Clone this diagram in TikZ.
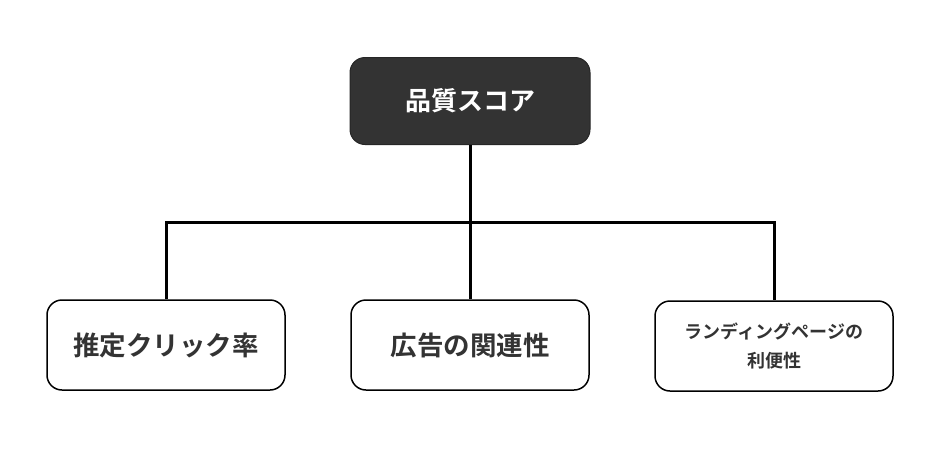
\documentclass[tikz,border=0pt]{standalone}
\usepackage{fontspec}
\newfontfamily\cjk{Noto Sans CJK JP}[BoldFont={* Bold}]
\begin{document}
\begin{tikzpicture}[x=1pt,y=-1pt,
  topbox/.style={draw=black!85,fill=black!80,rounded corners=15pt,line width=1pt,minimum width=240pt,minimum height=87pt,inner sep=0pt,text=white,font=\cjk\bfseries\fontsize{26}{30}\selectfont},
  subbox/.style={draw=black,fill=white,rounded corners=15pt,line width=1.5pt,minimum width=238pt,minimum height=90pt,inner sep=0pt,text=black!80,font=\cjk\bfseries\fontsize{26.5}{30}\selectfont,align=center},
  link/.style={line width=3pt,draw=black}]
\useasboundingbox (0,0) rectangle (940,450);
\node[topbox] (q) at (470,101) {品質スコア};
\node[subbox] (a) at (166,345) {推定クリック率};
\node[subbox] (b) at (470,345) {広告の関連性};
\node[subbox,font=\cjk\bfseries\fontsize{18}{29}\selectfont] (c) at (774,346) {ランディングページの\\利便性};
\coordinate (j) at (470,222);
\draw[link] (q.south) -- (j);
\draw[link] (a.north) |- (j) -| (c.north);
\draw[link] (j) -- (b.north);
\end{tikzpicture}
\end{document}
